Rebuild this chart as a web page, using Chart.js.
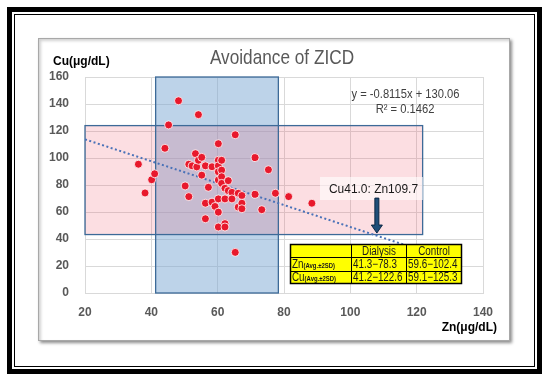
<!DOCTYPE html>
<html>
<head>
<meta charset="utf-8">
<script src="https://cdn.jsdelivr.net/npm/chart.js@4.4.1/dist/chart.umd.min.js"></script>
<style>
  html, body { margin: 0; padding: 0; background: #fff; }
  body { width: 550px; height: 381px; position: relative; overflow: hidden; }
  .frame { position: absolute; box-sizing: border-box; }
  #outer { left: 7px; top: 7px; width: 535px; height: 367px; border: 5px solid #000; }
  #inner { left: 14px; top: 14px; width: 521px; height: 353px; border: 1.5px solid #000; }
  #box { left: 38px; top: 38px; width: 472px; height: 303px; border: 1px solid #a8a8a8;
         box-shadow: 2px 2px 3px rgba(0,0,0,0.45), inset 2px 2px 3px rgba(0,0,0,0.18); }
  #wrap { position: absolute; left: 0; top: 0; width: 550px; height: 381px; }
</style>
</head>
<body>
<div class="frame" id="outer"></div>
<div class="frame" id="inner"></div>
<div class="frame" id="box"></div>
<div id="wrap"><canvas id="c" width="550" height="381"></canvas></div>
<script>
// ---- data ----
const znValues = [36.1, 38.1, 40.1, 41.0, 44.1, 45.2, 48.2, 54.2, 50.2, 51.3,
                  51.3, 52.3, 53.3, 53.7, 54.2, 55.2, 55.2, 56.3, 57.2, 56.3,
                  56.3, 58.3, 58.3, 59.2, 60.2, 60.2, 60.2, 60.2, 60.2, 60.2,
                  60.2, 60.2, 61.2, 61.2, 61.2, 61.2, 62.2, 62.2, 62.2, 62.2,
                  63.2, 63.2, 64.3, 64.3, 65.3, 65.3, 66.2, 66.2, 67.3, 67.3,
                  67.3, 71.3, 71.3, 73.3, 75.3, 77.4, 81.4, 88.4];
const cuValues = [95.4, 74.1, 83.9, 88.3, 107.2, 124.5, 142.4, 132.1, 79.3, 95.4,
                  71.4, 94.2, 103.2, 93.4, 98.3, 100.5, 87.3, 94.2, 78.3, 66.5,
                  55.0, 93.5, 67.3, 64.1, 110.6, 98.3, 94.2, 89.8, 83.7, 69.7,
                  59.9, 48.9, 98.3, 91.0, 86.1, 81.2, 77.6, 69.7, 51.4, 48.9,
                  83.2, 75.8, 74.6, 69.7, 117.2, 30.1, 73.9, 63.6, 72.2, 66.5,
                  62.4, 100.3, 73.1, 61.7, 91.3, 73.9, 71.4, 66.5];
const trendX = [20, 120];
const trendY = [113.8, 32.7];
const xTicks = [20, 40, 60, 80, 100, 120, 140];
const yTicks = [0, 20, 40, 60, 80, 100, 120, 140, 160];
const dialysisZnRange = [41.3, 78.3];   // blue band (x)
const blueBandCu = [0, 160];
const pinkBandZn = [20, 121.8];
const pinkBandCu = [43.3, 124.0];       // pink band (y)
const tableHeader = ["", "Dialysis", "Control"];
const tableRowLabels = ["Zn", "Cu"];
const tableDialysis = ["41.3\u221278.3", "41.2\u2212122.6"];
const tableControl = ["59.6\u2212102.4", "59.1\u2212125.3"];
const equationText = ["y = -0.8115x + 130.06", "R\u00b2 = 0.1462"];
const annotationText = "Cu41.0: Zn109.7";
const titleText = "Avoidance of ZICD";
const arrowPoint = { x: 108.0, yFrom: 70.3, yTo: 44.4 };

const SANS = "'Liberation Sans', Arial, sans-serif";

// draw horizontally condensed text (the original uses a narrow face)
function narrowText(ctx, text, x, y, sx, align) {
  const w = ctx.measureText(text).width * sx;
  let left = x;
  if (align === 'center') left = x - w / 2;
  else if (align === 'right') left = x - w;
  ctx.save();
  ctx.textAlign = 'left';
  ctx.translate(left, y);
  ctx.scale(sx, 1);
  ctx.fillText(text, 0, 0);
  ctx.restore();
  return w;
}

const overlay = {
  id: 'overlay',
  beforeDatasetsDraw(chart) {
    const { ctx, scales: { x, y } } = chart;
    ctx.save();
    let x0 = x.getPixelForValue(dialysisZnRange[0]), x1 = x.getPixelForValue(dialysisZnRange[1]);
    let y0 = y.getPixelForValue(blueBandCu[1]), y1 = y.getPixelForValue(blueBandCu[0]);
    ctx.fillStyle = 'rgba(123,167,211,0.5)';
    ctx.fillRect(x0, y0, x1 - x0, y1 - y0);
    let px0 = x.getPixelForValue(pinkBandZn[0]), px1 = x.getPixelForValue(pinkBandZn[1]);
    let py0 = y.getPixelForValue(pinkBandCu[1]), py1 = y.getPixelForValue(pinkBandCu[0]);
    ctx.fillStyle = 'rgba(240,90,110,0.2)';
    ctx.fillRect(px0, py0, px1 - px0, py1 - py0);
    ctx.strokeStyle = '#3d6a98';
    ctx.lineWidth = 1.3;
    ctx.strokeRect(x0, y0, x1 - x0, y1 - y0);
    ctx.strokeRect(px0, py0, px1 - px0, py1 - py0);
    ctx.restore();
  },
  afterDatasetsDraw(chart) {
    const { ctx, scales: { x, y } } = chart;
    ctx.save();
    ctx.textBaseline = 'middle';
    // equation
    ctx.fillStyle = '#404040';
    ctx.font = "13px " + SANS;
    narrowText(ctx, equationText[0], 405.5, 94, 0.86, 'center');
    narrowText(ctx, equationText[1], 405, 109.5, 0.86, 'center');

    // annotation label with translucent white box
    ctx.fillStyle = 'rgba(255,255,255,0.6)';
    ctx.fillRect(320, 177, 103, 23);
    ctx.fillStyle = '#1a1a1a';
    ctx.font = "13px " + SANS;
    narrowText(ctx, annotationText, 373.5, 189, 0.92, 'center');

    // arrow
    const ax = x.getPixelForValue(arrowPoint.x);
    const ay0 = y.getPixelForValue(arrowPoint.yFrom);
    const ay1 = y.getPixelForValue(arrowPoint.yTo);
    const headH = 8, shaftW = 4, headW = 11;
    ctx.beginPath();
    ctx.moveTo(ax - shaftW / 2, ay0);
    ctx.lineTo(ax + shaftW / 2, ay0);
    ctx.lineTo(ax + shaftW / 2, ay1 - headH);
    ctx.lineTo(ax + headW / 2, ay1 - headH);
    ctx.lineTo(ax, ay1);
    ctx.lineTo(ax - headW / 2, ay1 - headH);
    ctx.lineTo(ax - shaftW / 2, ay1 - headH);
    ctx.closePath();
    ctx.fillStyle = '#1f4e79';
    ctx.fill();
    ctx.strokeStyle = '#0c2744';
    ctx.lineWidth = 1;
    ctx.stroke();

    // table
    const cols = [81.8, 100.2, 116.8, 133.4].map(v => Math.round(x.getPixelForValue(v)) + 0.5);
    const rows = [36.2, 26.6, 16.3, 7.4].map(v => Math.round(y.getPixelForValue(v)) + 0.5);
    ctx.fillStyle = '#ffff00';
    ctx.fillRect(cols[0], rows[0], cols[3] - cols[0], rows[3] - rows[0]);
    ctx.strokeStyle = '#000';
    ctx.lineWidth = 1;
    ctx.beginPath();
    cols.forEach(c => { ctx.moveTo(c, rows[0]); ctx.lineTo(c, rows[3]); });
    rows.forEach(r => { ctx.moveTo(cols[0], r); ctx.lineTo(cols[3], r); });
    ctx.stroke();
    ctx.lineWidth = 1.5;
    ctx.strokeRect(cols[0], rows[0], cols[3] - cols[0], rows[3] - rows[0]);

    ctx.fillStyle = '#1a1a1a';
    const sx = 0.82;
    ctx.font = "12px " + SANS;
    const hy = (rows[0] + rows[1]) / 2 + 0.5;
    narrowText(ctx, tableHeader[1], (cols[1] + cols[2]) / 2, hy, sx, 'center');
    narrowText(ctx, tableHeader[2], (cols[2] + cols[3]) / 2, hy, sx, 'center');
    for (let i = 0; i < 2; i++) {
      const ry = (rows[i + 1] + rows[i + 2]) / 2 + 0.5;
      ctx.font = "12px " + SANS;
      const w = narrowText(ctx, tableRowLabels[i], cols[0] + 1.5, ry, sx, 'left');
      ctx.font = "bold 7px " + SANS;
      narrowText(ctx, "(Avg.\u00b12SD)", cols[0] + 1.5 + w, ry + 1, 0.85, 'left');
      ctx.font = "12px " + SANS;
      narrowText(ctx, tableDialysis[i], cols[1] + 1.5, ry, sx, 'left');
      narrowText(ctx, tableControl[i], cols[2] + 1.5, ry, sx, 'left');
    }
    ctx.restore();
  },
  afterDraw(chart) {
    const { ctx } = chart;
    ctx.save();
    ctx.textBaseline = 'middle';
    // title
    ctx.fillStyle = '#595959';
    ctx.font = "21px " + SANS;
    narrowText(ctx, titleText, 282, 58, 0.82, 'center');
    // axis titles
    ctx.fillStyle = '#000';
    ctx.font = "bold 12px " + SANS;
    ctx.textAlign = 'left';
    ctx.fillText('Cu(\u03bcg/dL)', 53, 62);
    ctx.textAlign = 'right';
    ctx.fillText('Zn(\u03bcg/dL)', 497, 328);
    ctx.restore();
  }
};

new Chart(document.getElementById('c'), {
  data: {
    datasets: [
      {
        type: 'scatter',
        label: 'Patients',
        data: znValues.map((v, i) => ({ x: v, y: cuValues[i] })),
        backgroundColor: '#e8192c',
        borderColor: '#ffffff',
        borderWidth: 0.8,
        pointRadius: 4,
        order: 0
      },
      {
        type: 'line',
        label: 'Trend',
        data: trendX.map((v, i) => ({ x: v, y: trendY[i] })),
        borderColor: '#4a72b8',
        borderWidth: 2,
        borderDash: [2, 2.5],
        pointRadius: 0,
        fill: false,
        order: 1
      }
    ]
  },
  options: {
    responsive: false,
    animation: false,
    events: [],
    layout: { padding: { left: 0, right: 67, top: 77, bottom: 0 } },
    plugins: {
      legend: { display: false },
      tooltip: { enabled: false },
      title: { display: false, text: titleText }
    },
    scales: {
      x: {
        type: 'linear',
        min: xTicks[0], max: xTicks[xTicks.length - 1],
        afterBuildTicks(s) { s.ticks = xTicks.map(v => ({ value: v })); },
        afterFit(s) { s.height = 88; },
        grid: { color: '#d9d9d9', lineWidth: 1, drawTicks: false },
        border: { color: '#d9d9d9' },
        ticks: { color: '#595959', padding: 12, font: { family: SANS, size: 12, weight: 'bold' } }
      },
      y: {
        type: 'linear',
        min: yTicks[0], max: yTicks[yTicks.length - 1],
        afterBuildTicks(s) { s.ticks = yTicks.map(v => ({ value: v })); },
        afterFit(s) { s.width = 85; },
        grid: { color: '#d9d9d9', lineWidth: 1, drawTicks: false },
        border: { color: '#d9d9d9' },
        ticks: { color: '#595959', padding: 16, font: { family: SANS, size: 12, weight: 'bold' } }
      }
    }
  },
  plugins: [overlay]
});
</script>
</body>
</html>
